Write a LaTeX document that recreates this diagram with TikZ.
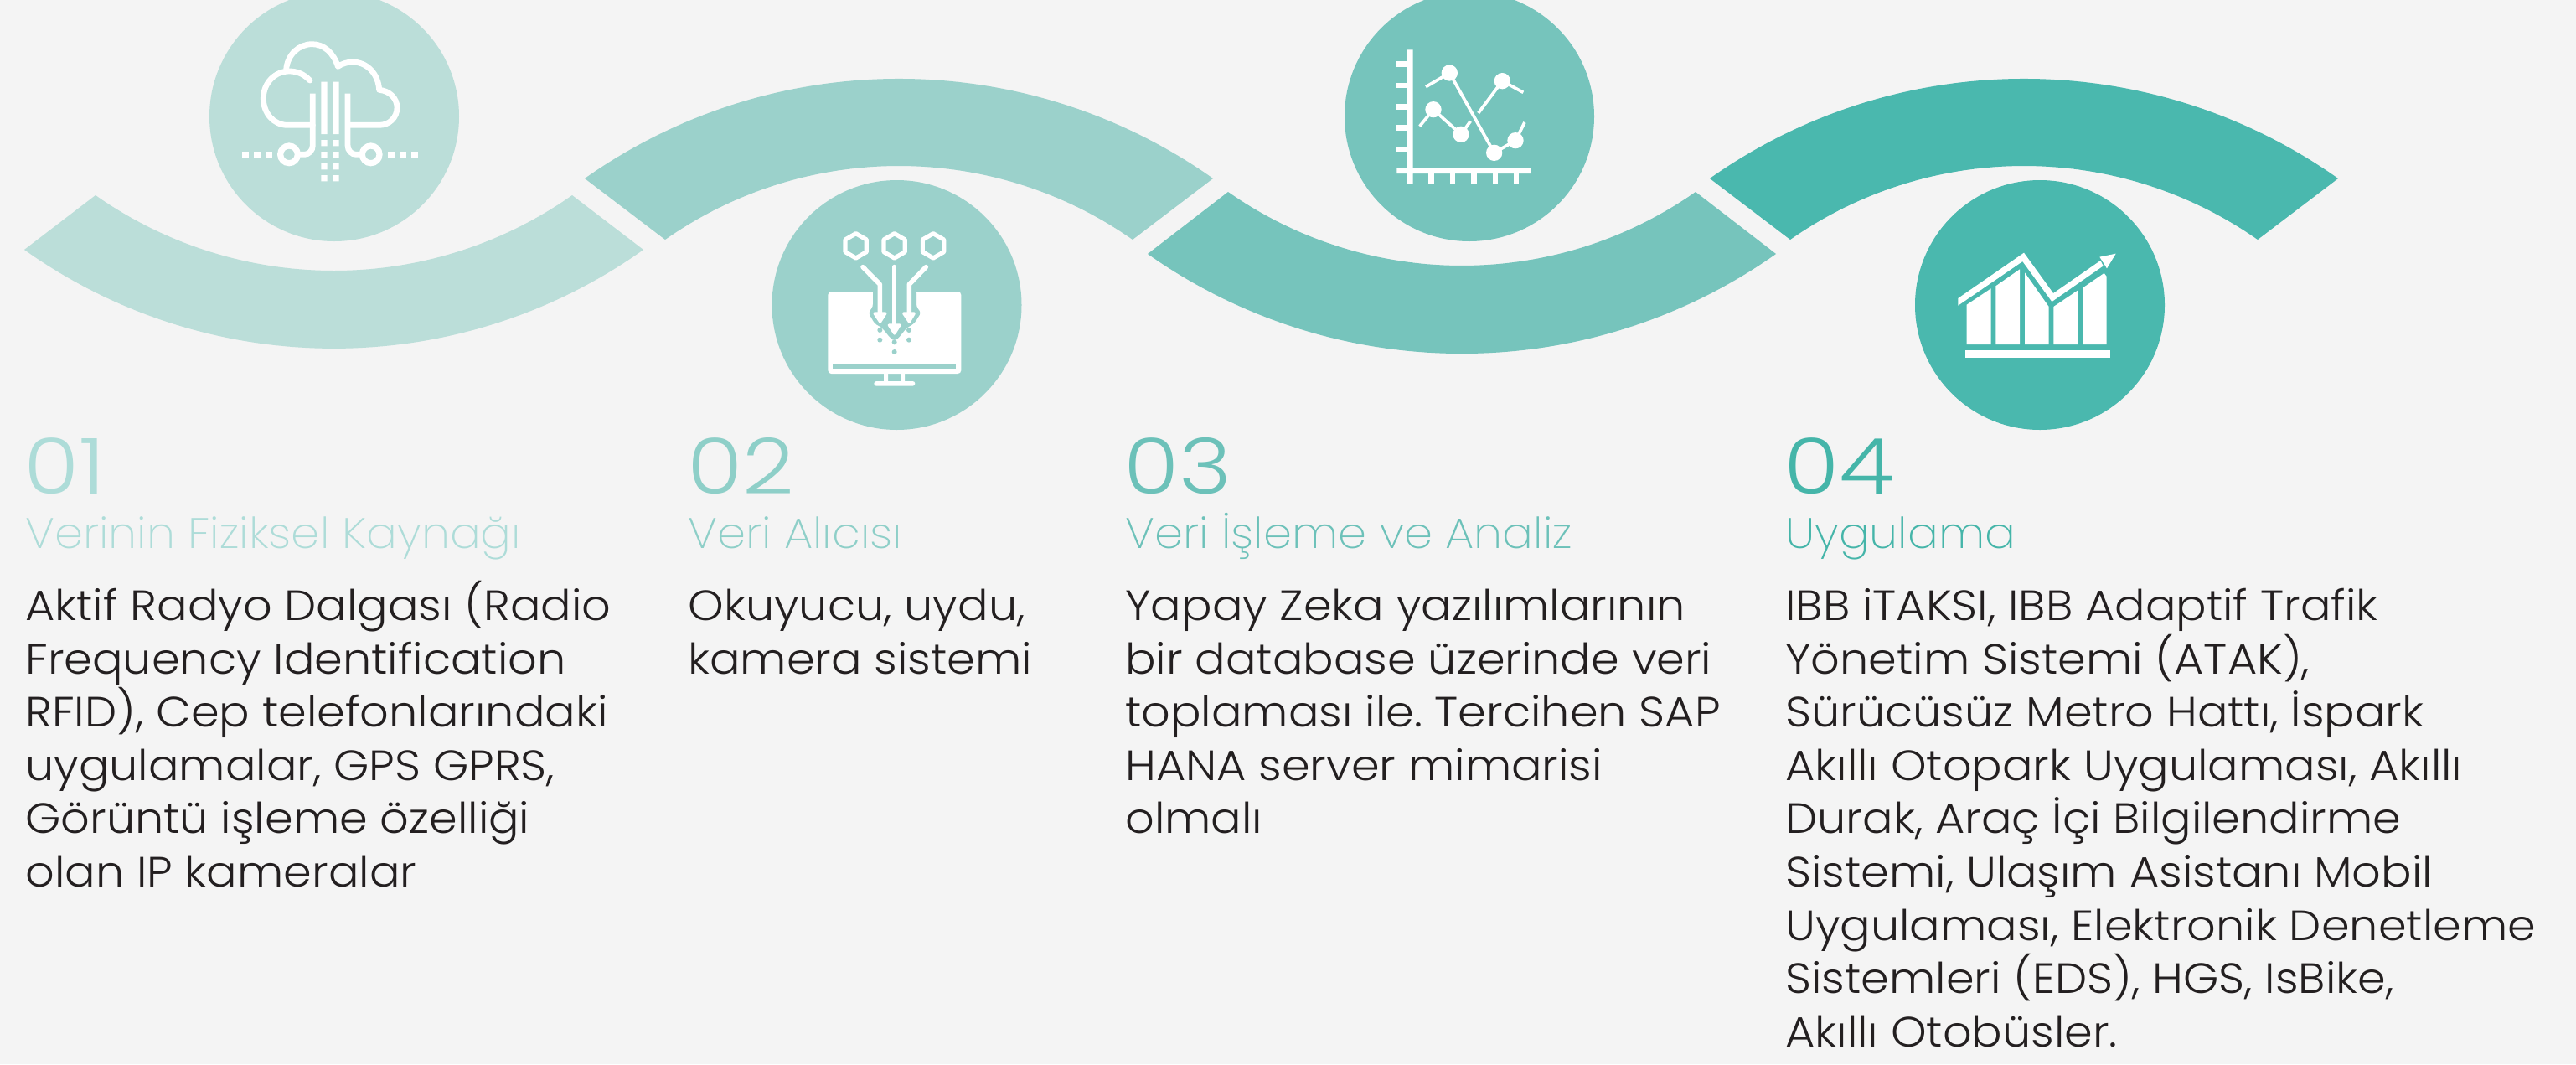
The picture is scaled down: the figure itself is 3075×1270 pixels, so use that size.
\documentclass[tikz,border=0pt]{standalone}
\usepackage{fontspec}
\setmainfont{Poppins Light}[FakeStretch=1.07]
\newfontfamily\numfont{Poppins Light}[FakeStretch=1.17]
\newfontfamily\titlefont{Poppins ExtraLight}[FakeStretch=1.07]
\frenchspacing
\newcommand{\firstln}{\rule{0pt}{30pt}}
\definecolor{bgc}{HTML}{F4F4F4}
\definecolor{ca}{HTML}{BBDED9}
\definecolor{cb}{HTML}{9BD1CB}
\definecolor{cc}{HTML}{76C4BC}
\definecolor{cd}{HTML}{4AB8AE}
\definecolor{ta}{HTML}{ADDCD8}
\definecolor{tb}{HTML}{8ECFC8}
\definecolor{tc}{HTML}{6CC1B9}
\definecolor{td}{HTML}{45B5A9}
\definecolor{ink}{HTML}{231F20}
\tikzset{
  zoomat/.style 2 args={shift={(#1*0.5pt,-#2*0.5pt)},x=0.16667pt,y=-0.16667pt},
  numtext/.style={anchor=base west,inner sep=0pt,font=\numfont\fontsize{46}{46}\selectfont},
  titletext/.style={anchor=base west,inner sep=0pt,font=\titlefont\fontsize{25.5}{31.5}\selectfont},
  bodytext/.style={anchor=north west,inner sep=0pt,align=left,text=ink,font=\fontsize{25.3}{31.8}\selectfont\frenchspacing},
  whiteline/.style={draw=white,line width=3.4pt},
}
\begin{document}
\begin{tikzpicture}[x=0.5pt,y=-0.5pt]
\useasboundingbox (0,0) rectangle (3075,1270);
\fill[bgc] (0,0) rectangle (3075,1270);
% bands
\fill[ca] (29,298) .. controls (250.1,455.2) and (546.9,455.2) .. (768,298) -- (683,233) .. controls (512.4,353) and (284.6,353) .. (114,233) -- cycle;
\fill[cb] (698,213) .. controls (922.8,54.3) and (1223.2,54.3) .. (1448,213) -- (1352,286) .. controls (1184.6,168.7) and (961.4,168.7) .. (794,286) -- cycle;
\fill[cc] (1370,303) .. controls (1594.8,461.7) and (1895.2,461.7) .. (2120,303) -- (2024,229) .. controls (1856.6,346.3) and (1633.4,346.3) .. (1466,229) -- cycle;
\fill[cd] (2041,213) .. controls (2265.8,54.3) and (2566.2,54.3) .. (2791,213) -- (2695,286) .. controls (2527.6,168.7) and (2304.4,168.7) .. (2137,286) -- cycle;
% circles
\fill[ca] (399,139) circle[radius=74.5pt];
\fill[cb] (1070.5,364) circle[radius=74.5pt];
\fill[cc] (1754,139) circle[radius=74.5pt];
\fill[cd] (2435,364) circle[radius=74.5pt];
% icon 1
\begin{scope}[zoomat={230}{0}]
 \draw[whiteline,line cap=round,line join=round] (420,288) .. controls (395,262) and (370,255) .. (345,255) .. controls (295,255) and (253,297) .. (253,352) .. controls (253,405) and (290,448) .. (340,448) -- (430,448);
 \draw[whiteline,line join=round] (335,248) .. controls (340,195) and (380,158) .. (428,158) .. controls (470,158) and (505,190) .. (520,238) .. controls (535,228) and (555,222) .. (572,222) .. controls (625,222) and (665,265) .. (668,322) .. controls (705,325) and (732,352) .. (732,385) .. controls (732,420) and (705,448) .. (668,448) -- (555,448);
 \draw[whiteline] (430,335) -- (430,520) .. controls (430,540) and (415,553) .. (400,553) -- (380,553);
 \draw[whiteline] (555,335) -- (555,520) .. controls (555,540) and (570,553) .. (585,553) -- (605,553);
 \draw[white,line width=3.6pt] (345,553) circle[radius=31];
 \draw[white,line width=3.6pt] (638,553) circle[radius=31];
 \fill[white] (460,293) rectangle (482,480) (502,293) rectangle (524,480);
 \foreach \yy in {501,543,585,627} {\fill[white] (460,\yy) rectangle +(22,22) (502,\yy) rectangle +(22,22);}
 \foreach \xx in {178,220,262,700,742,784} {\fill[white] (\xx,543) rectangle +(22,22);}
\end{scope}
% icon 2
\begin{scope}[zoomat={900}{200}]
 \foreach \cx in {365,503,642} {
  \draw[white,line width=2.6pt,line join=round] (\cx,236) -- ++(38,22) -- ++(0,44) -- ++(-38,22) -- ++(-38,-22) -- ++(0,-44) -- cycle;
 }
 \fill[white,rounded corners=2pt] (265,444) rectangle (742,738);
 \fill[cb,rounded corners=1.5pt] (426,440) -- (426,498) -- (410,520) -- (432,558) -- (460,575) -- (490,612) -- (503,620) -- (516,612) -- (546,575) -- (574,558) -- (598,520) -- (582,498) -- (582,440) -- cycle;
 \foreach \px/\py in {451/582,451/617,555/582,555/617,503/625,503/660} {\fill[cb] (\px,\py) circle[radius=9];}
 \fill[cb] (283,704) rectangle (724,721);
 \fill[white] (465,738) rectangle (480,768) (525,738) rectangle (540,768);
 \fill[white,rounded corners=1.4pt] (430,765) rectangle (577,782);
 \draw[white,line width=2.8pt,line cap=round,line join=round] (390,356) -- (451,418) -- (451,530);
 \draw[white,line width=2.8pt,line cap=round] (503,356) -- (503,575);
 \draw[white,line width=2.8pt,line cap=round,line join=round] (616,356) -- (556,418) -- (556,530);
 \fill[white,draw=white,line width=1.6pt,line join=round] (432,522) -- (471,522) -- (452,552) -- cycle;
 \fill[white,draw=white,line width=1.6pt,line join=round] (484,564) -- (522,564) -- (503,594) -- cycle;
 \fill[white,draw=white,line width=1.6pt,line join=round] (536,522) -- (574,522) -- (556,552) -- cycle;
\end{scope}
% icon 3
\begin{scope}[zoomat={1590}{0}]
 \fill[white] (270,178) rectangle (290,658) (232,601) rectangle (712,621);
 \foreach \yy in {219,296,372,448,524} {\fill[white] (232,\yy) rectangle +(38,20);}
 \foreach \xx in {346,422,499,575,651} {\fill[white] (\xx,621) rectangle +(19,37);}
 \draw[white,line width=1.85pt] (336,311) -- (421,261) -- (581,547) -- (657,503) -- (690,438);
 \draw[white,line width=1.85pt] (524,405) -- (610,290) -- (685,331);
 \draw[white,line width=1.85pt] (314,452) -- (363,392) -- (462,481) -- (496,434);
 \foreach \px/\py in {421/261,610/290,363/392,462/481,581/547,657/503} {\fill[white] (\px,\py) circle[radius=29];}
\end{scope}
% icon 4
\begin{scope}[zoomat={2270}{200}]
 \fill[white] (202,468) -- (438,305) -- (543,450) -- (712,333) -- (722,352) -- (538,480) -- (433,336) -- (202,494) -- cycle;
 \fill[white] (767,308) -- (709,320) -- (735,361) -- cycle;
 \fill[white] (233,633) -- (233,491) -- (320,433) -- (320,633) -- cycle;
 \fill[white] (337,633) -- (337,424) -- (423,364) -- (423,633) -- cycle;
 \fill[white] (441,633) -- (441,376) -- (527,498) -- (527,633) -- cycle;
 \fill[white] (544,633) -- (544,498) -- (630,440) -- (630,633) -- cycle;
 \fill[white] (648,633) -- (648,431) -- (725,378) -- (734,390) -- (734,633) -- cycle;
 \fill[white] (228,654) rectangle (747,681);
\end{scope}
% text
\node[numtext,text=ta] (na) at (28,589) {01};
\node[titletext,text=ta] (ta) at (30,654) {Verinin Fiziksel Kaynağı};
\node[bodytext] (ba) at (30,680) {\firstln Aktif Radyo Dalgası (Radio\\Frequency Identification\\RFID), Cep telefonlarındaki\\uygulamalar, GPS GPRS,\\Görüntü işleme özelliği\\olan IP kameralar};
\node[numtext,text=tb] (nb) at (820,589) {02};
\node[titletext,text=tb] (tb) at (821,654) {Veri Alıcısı};
\node[bodytext] (bb) at (821,680) {\firstln Okuyucu, uydu,\\kamera sistemi};
\node[numtext,text=tc] (nc) at (1341,589) {03};
\node[titletext,text=tc] (tc) at (1343,654) {Veri İşleme ve Analiz};
\node[bodytext] (bc) at (1343,680) {\firstln Yapay Zeka yazılımlarının\\bir database üzerinde veri\\toplaması ile. Tercihen SAP\\HANA server mimarisi\\olmalı};
\node[numtext,text=td] (nd) at (2129,589) {04};
\node[titletext,text=td] (td) at (2131,654) {Uygulama};
\node[bodytext] (bd) at (2131,680) {\firstln IBB iTAKSI, IBB Adaptif Trafik\\Yönetim Sistemi (ATAK),\\Sürücüsüz Metro Hattı, İspark\\Akıllı Otopark Uygulaması, Akıllı\\Durak, Araç İçi Bilgilendirme\\Sistemi, Ulaşım Asistanı Mobil\\Uygulaması, Elektronik Denetleme\\Sistemleri (EDS), HGS, IsBike,\\Akıllı Otobüsler.};
\end{tikzpicture}
\end{document}
